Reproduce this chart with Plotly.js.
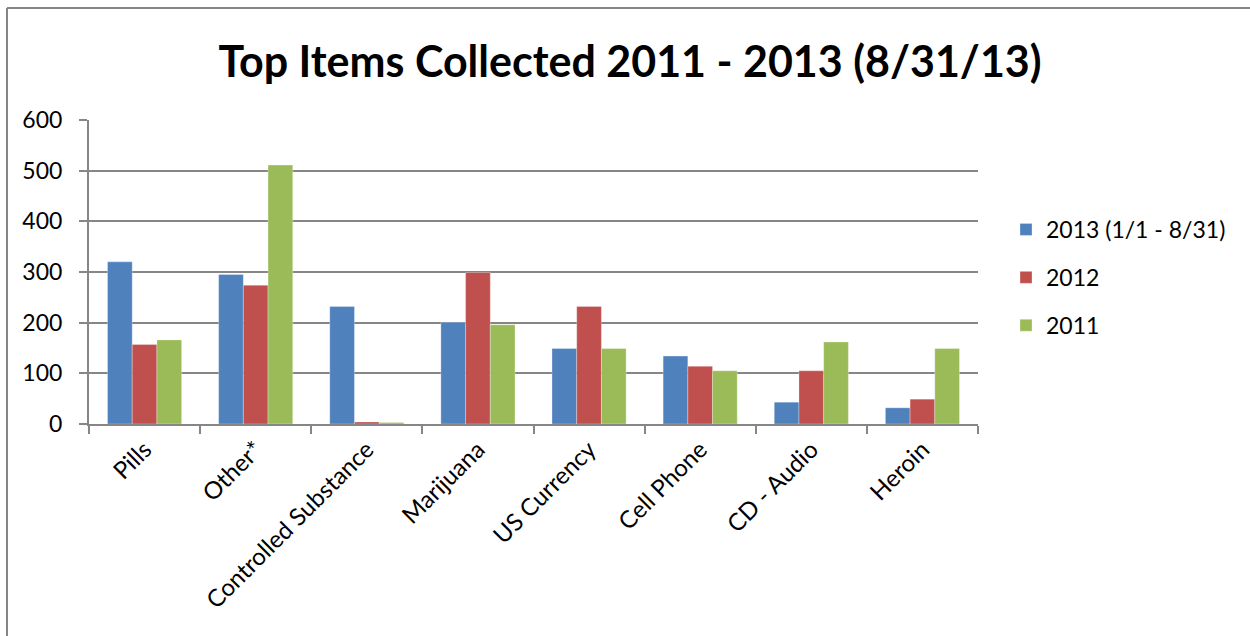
<!DOCTYPE html>
<html>
<head>
<meta charset="utf-8">
<script src="https://cdn.plot.ly/plotly-3.0.1.min.js"></script>
<style>
  html, body { margin: 0; padding: 0; background: #ffffff; }
  #chart { width: 1250px; height: 636px; }
</style>
</head>
<body>
<div id="chart"></div>
<script>
const categories = ["Pills", "Other*", "Controlled Substance", "Marijuana", "US Currency", "Cell Phone", "CD - Audio", "Heroin"];
const seriesNames = ["2013 (1/1 - 8/31)", "2012", "2011"];
const values2013 = [320, 295, 232, 201, 149, 134, 43, 32];
const values2012 = [157, 274, 4, 299, 232, 114, 105, 49];
const values2011 = [166, 511, 3, 196, 149, 105, 162, 149];
const yTicks = [0, 100, 200, 300, 400, 500, 600];
const colors = ["#4F81BD", "#C0504D", "#9BBB59"];

const font = "Lato, 'Open Sans', sans-serif";
const allValues = [values2013, values2012, values2011];
const traces = allValues.map((v, i) => ({
  type: "bar",
  name: seriesNames[i],
  x: categories,
  y: v,
  legendgroup: "g" + i,
  marker: { color: colors[i], line: { color: "rgba(255,255,255,0.6)", width: 0.5 } }
}));

const L = 89, R = 272, T = 120, B = 212;
const W = 1250 - L - R, H = 636 - T - B;
const bx = (7 - L) / W;
const by = 1 + (T - 8) / H;

const layout = {
  width: 1250, height: 636,
  margin: { l: L, r: R, t: T, b: B, pad: 0 },
  paper_bgcolor: "#ffffff",
  plot_bgcolor: "#ffffff",
  font: { family: font, color: "#000000" },
  title: {
    text: "<b>Top Items Collected 2011 - 2013 (8/31/13)</b>",
    font: { family: font, size: 43, color: "#000000" },
    x: 0.504, xanchor: "center",
    y: 0.902, yanchor: "middle"
  },
  barmode: "group",
  bargap: 0.333,
  bargroupgap: 0,
  xaxis: {
    type: "category",
    tickangle: -45,
    tickfont: { family: font, size: 24, color: "#000000" },
    showline: true, linecolor: "#868686", linewidth: 2,
    ticks: "outside", tickson: "boundaries", ticklen: 8, tickcolor: "#868686", tickwidth: 2,
    showgrid: false, zeroline: false,
    fixedrange: true
  },
  yaxis: {
    range: [0, 600],
    tickvals: yTicks,
    tickfont: { family: font, size: 23, color: "#000000" },
    showline: true, linecolor: "#868686", linewidth: 2,
    ticks: "outside", ticklen: 8, tickcolor: "#868686", tickwidth: 2,
    ticklabelstandoff: 12,
    showgrid: true, gridcolor: "#868686", gridwidth: 2,
    zeroline: false,
    fixedrange: true
  },
  showlegend: true,
  legend: {
    x: (1006 - L) / W, xanchor: "left",
    y: (424 - 208) / H, yanchor: "top",
    font: { family: font, size: 23, color: "#000000" },
    tracegroupgap: 15,
    traceorder: "grouped",
    bgcolor: "rgba(0,0,0,0)",
    itemwidth: 30
  },
  shapes: [
    { type: "line", xref: "paper", yref: "paper", x0: bx, x1: bx, y0: by, y1: -2, line: { color: "#868686", width: 2 } },
    { type: "line", xref: "paper", yref: "paper", x0: bx, x1: 2, y0: by, y1: by, line: { color: "#868686", width: 2 } }
  ]
};

Plotly.newPlot("chart", traces, layout, { staticPlot: true, displayModeBar: false });
</script>
</body>
</html>
